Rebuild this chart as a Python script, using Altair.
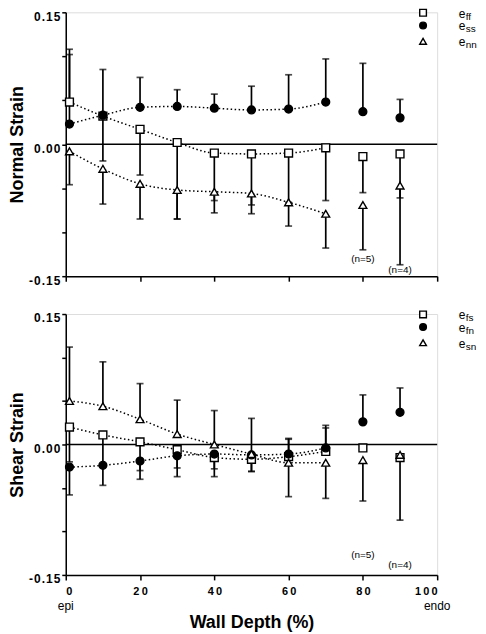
import altair as alt
import pandas as pd

depth = [1, 10, 20, 30, 40, 50, 60, 70, 80, 90]

# ---- Normal strain (top panel) ----
eff_mean = [0.048, 0.032, 0.017, 0.002, -0.010, -0.011, -0.010, -0.004, -0.014, -0.011]
eff_end = [0.108, -0.019, -0.035, -0.085, -0.064, -0.069, -0.066, -0.064, -0.055, -0.061]
ess_mean = [0.023, 0.033, 0.042, 0.043, 0.041, 0.039, 0.040, 0.048, 0.037, 0.030]
ess_end = [0.102, 0.085, 0.076, 0.062, 0.057, 0.066, 0.079, 0.097, 0.092, 0.051]
enn_mean = [-0.008, -0.028, -0.045, -0.052, -0.054, -0.056, -0.066, -0.079, -0.069, -0.047]
enn_end = [-0.046, -0.068, -0.085, -0.085, -0.078, -0.079, -0.093, -0.118, -0.120, -0.137]

# ---- Shear strain (bottom panel) ----
efs_mean = [0.020, 0.011, 0.003, -0.006, -0.015, -0.017, -0.014, -0.008, -0.004, -0.015]
efs_end = [-0.020, -0.024, -0.030, -0.027, -0.028, -0.031, 0.006, 0.019, None, -0.087]
efn_mean = [-0.026, -0.024, -0.019, -0.013, -0.011, -0.012, -0.011, -0.004, 0.026, 0.037]
efn_end = [-0.058, -0.047, -0.040, -0.037, -0.037, -0.031, 0.007, 0.022, 0.057, 0.065]
esn_mean = [0.050, 0.044, 0.029, 0.012, 0.000, -0.011, -0.021, -0.021, -0.018, -0.012]
esn_end = [0.112, 0.095, 0.070, 0.051, 0.039, 0.030, -0.060, -0.062, -0.065, None]

kinds = ["sq", "ci", "tr"]
top_subs = ["ff", "ss", "nn"]
bot_subs = ["fs", "fn", "sn"]

# annotations
n_text = ["(n=5)", "(n=4)"]
n_depth = [80, 90]
top_n_y = [-0.130, -0.143]
bot_n_y = [-0.127, -0.139]

# legend placement (data units)
legend_x = [96.2, 96.2, 96.2]
legend_tx = [105.8, 105.8, 105.8]
legend_y = [0.1495, 0.135, 0.117]

FONT = "Liberation Sans"
HS = "\u200a"
TS = "\u2009"


def make_df(means, ends):
    rows = []
    for k, m, e in zip(kinds, means, ends):
        for d, mv, ev in zip(depth, m, e):
            rows.append({"depth": d, "mean": mv, "end": ev, "kind": k})
    return pd.DataFrame(rows)


top_df = make_df([eff_mean, ess_mean, enn_mean], [eff_end, ess_end, enn_end])
bot_df = make_df([efs_mean, efn_mean, esn_mean], [efs_end, efn_end, esn_end])

shape_scale = alt.Scale(domain=kinds, range=["square", "circle", "triangle-up"])
fill_scale = alt.Scale(domain=kinds, range=["white", "black", "white"])

y_label_expr = (
    "abs(datum.value) < 0.001 ? '0" + HS + "." + HS + "0" + HS + "0' : "
    "(datum.value > 0.14 ? '0" + HS + "." + HS + "1" + HS + "5' : "
    "(datum.value < -0.14 ? '-" + HS + "0" + HS + "." + HS + "1" + HS + "5' : ''))"
)
x_label_expr = "join(split(datum.label, ''), '" + TS + "')"


def panel(df, ytitle, subs, ny, bottom, h):
    yaxis = alt.Axis(
        values=[-0.15, -0.10, -0.05, 0.0, 0.05, 0.10, 0.15],
        labelExpr=y_label_expr,
        labelFont=FONT, labelFontWeight="bold", labelFontSize=12, labelColor="black",
        labelPadding=2, labelBaseline="top", labelOffset=-1,
        tickSize=4, tickWidth=1.5, tickColor="black",
        domainColor="black", domainWidth=1.5, grid=False,
        title=ytitle, titleFont=FONT, titleFontWeight="bold", titleFontSize=18,
        titleColor="black", titlePadding=2,
    )
    if bottom:
        xaxis = alt.Axis(
            values=[0, 20, 40, 60, 80, 100], labelExpr=x_label_expr,
            labelFont=FONT, labelFontWeight="bold", labelFontSize=11, labelColor="black",
            labelPadding=6, tickSize=5, tickWidth=1.5, tickColor="black",
            domainColor="black", domainWidth=1.5, grid=False,
            title="Wall Depth (%)", titleFont=FONT, titleFontWeight="bold",
            titleFontSize=18, titleColor="black", titlePadding=17,
        )
    else:
        xaxis = alt.Axis(
            values=[0, 20, 40, 60, 80, 100], labels=False,
            tickSize=5, tickWidth=1.5, tickColor="black",
            domainColor="black", domainWidth=1.5, grid=False, title=None,
        )
    xs = alt.Scale(domain=[0, 100], nice=False, zero=False)
    ys = alt.Scale(domain=[-0.15, 0.15], nice=False, zero=False)

    def X(field="depth"):
        return alt.X(f"{field}:Q", scale=xs, axis=xaxis)

    def Y(field="mean"):
        return alt.Y(f"{field}:Q", scale=ys, axis=yaxis)

    base = alt.Chart(df)

    zero_df = pd.DataFrame({"depth": [0], "depth2": [100], "mean": [0.0]})
    zero = alt.Chart(zero_df).mark_rule(color="black", strokeWidth=1.5).encode(
        x=X(), x2="depth2:Q", y=Y()
    )

    lines = base.transform_filter("datum.depth <= 70").mark_line(
        color="black", strokeWidth=1.5, strokeDash=[1.5, 2.5], interpolate="monotone"
    ).encode(x=X(), y=Y(), detail="kind:N")

    valid = base.transform_filter("isValid(datum.end)")
    bars = valid.mark_rule(color="black", strokeWidth=1.7).encode(
        x=X(), y=Y(), y2="end:Q"
    )
    caps = valid.mark_tick(color="black", orient="horizontal", size=7, thickness=1.7).encode(
        x=X(), y=Y("end")
    )

    points = base.mark_point(filled=True, size=62, strokeWidth=1.4, stroke="black", opacity=1).encode(
        x=X(), y=Y(),
        shape=alt.Shape("kind:N", scale=shape_scale, legend=None),
        fill=alt.Fill("kind:N", scale=fill_scale, legend=None),
    )

    ann_df = pd.DataFrame({"depth": n_depth, "mean": ny, "t": n_text})
    ann = alt.Chart(ann_df).mark_text(font=FONT, fontSize=10, color="black").encode(
        x=X(), y=Y(), text="t:N"
    )

    leg_df = pd.DataFrame({"depth": legend_x, "tx": legend_tx, "mean": legend_y,
                           "kind": kinds, "sub": subs})
    leg_pts = alt.Chart(leg_df).mark_point(filled=True, size=45, strokeWidth=1.4, stroke="black", opacity=1).encode(
        x=X(), y=Y(),
        shape=alt.Shape("kind:N", scale=shape_scale, legend=None),
        fill=alt.Fill("kind:N", scale=fill_scale, legend=None),
    )
    leg_e = alt.Chart(leg_df).mark_text(font=FONT, fontSize=12, align="left", baseline="middle",
                                        color="black", dy=1).encode(
        x=X("tx"), y=Y(), text=alt.value("e")
    )
    leg_sub = alt.Chart(leg_df).mark_text(font=FONT, fontSize=10, align="left", baseline="middle",
                                          color="black", dx=7, dy=4).encode(
        x=X("tx"), y=Y(), text="sub:N"
    )

    layers = [zero, lines, bars, caps, points, ann, leg_pts, leg_e, leg_sub]

    if bottom:
        ends_df = pd.DataFrame({"depth": [0, 100], "mean": [-0.15, -0.15], "t": ["epi", "endo"]})
        ends = alt.Chart(ends_df).mark_text(font=FONT, fontSize=12, color="black",
                                            baseline="middle", dy=31).encode(
            x=X(), y=Y(), text="t:N"
        )
        layers.append(ends)

    return alt.layer(*layers).properties(width=373, height=h)


top = panel(top_df, "Normal Strain", top_subs, top_n_y, False, 265)
bot = panel(bot_df, "Shear Strain", bot_subs, bot_n_y, True, 262)

chart = alt.vconcat(top, bot, spacing=38, bounds="flush").properties(
    padding={"left": 0, "top": -4, "right": 0, "bottom": 0}
).configure_view(stroke=None).configure(background="white")

chart.save("out.html", embed_options={"renderer": "svg", "actions": False})
